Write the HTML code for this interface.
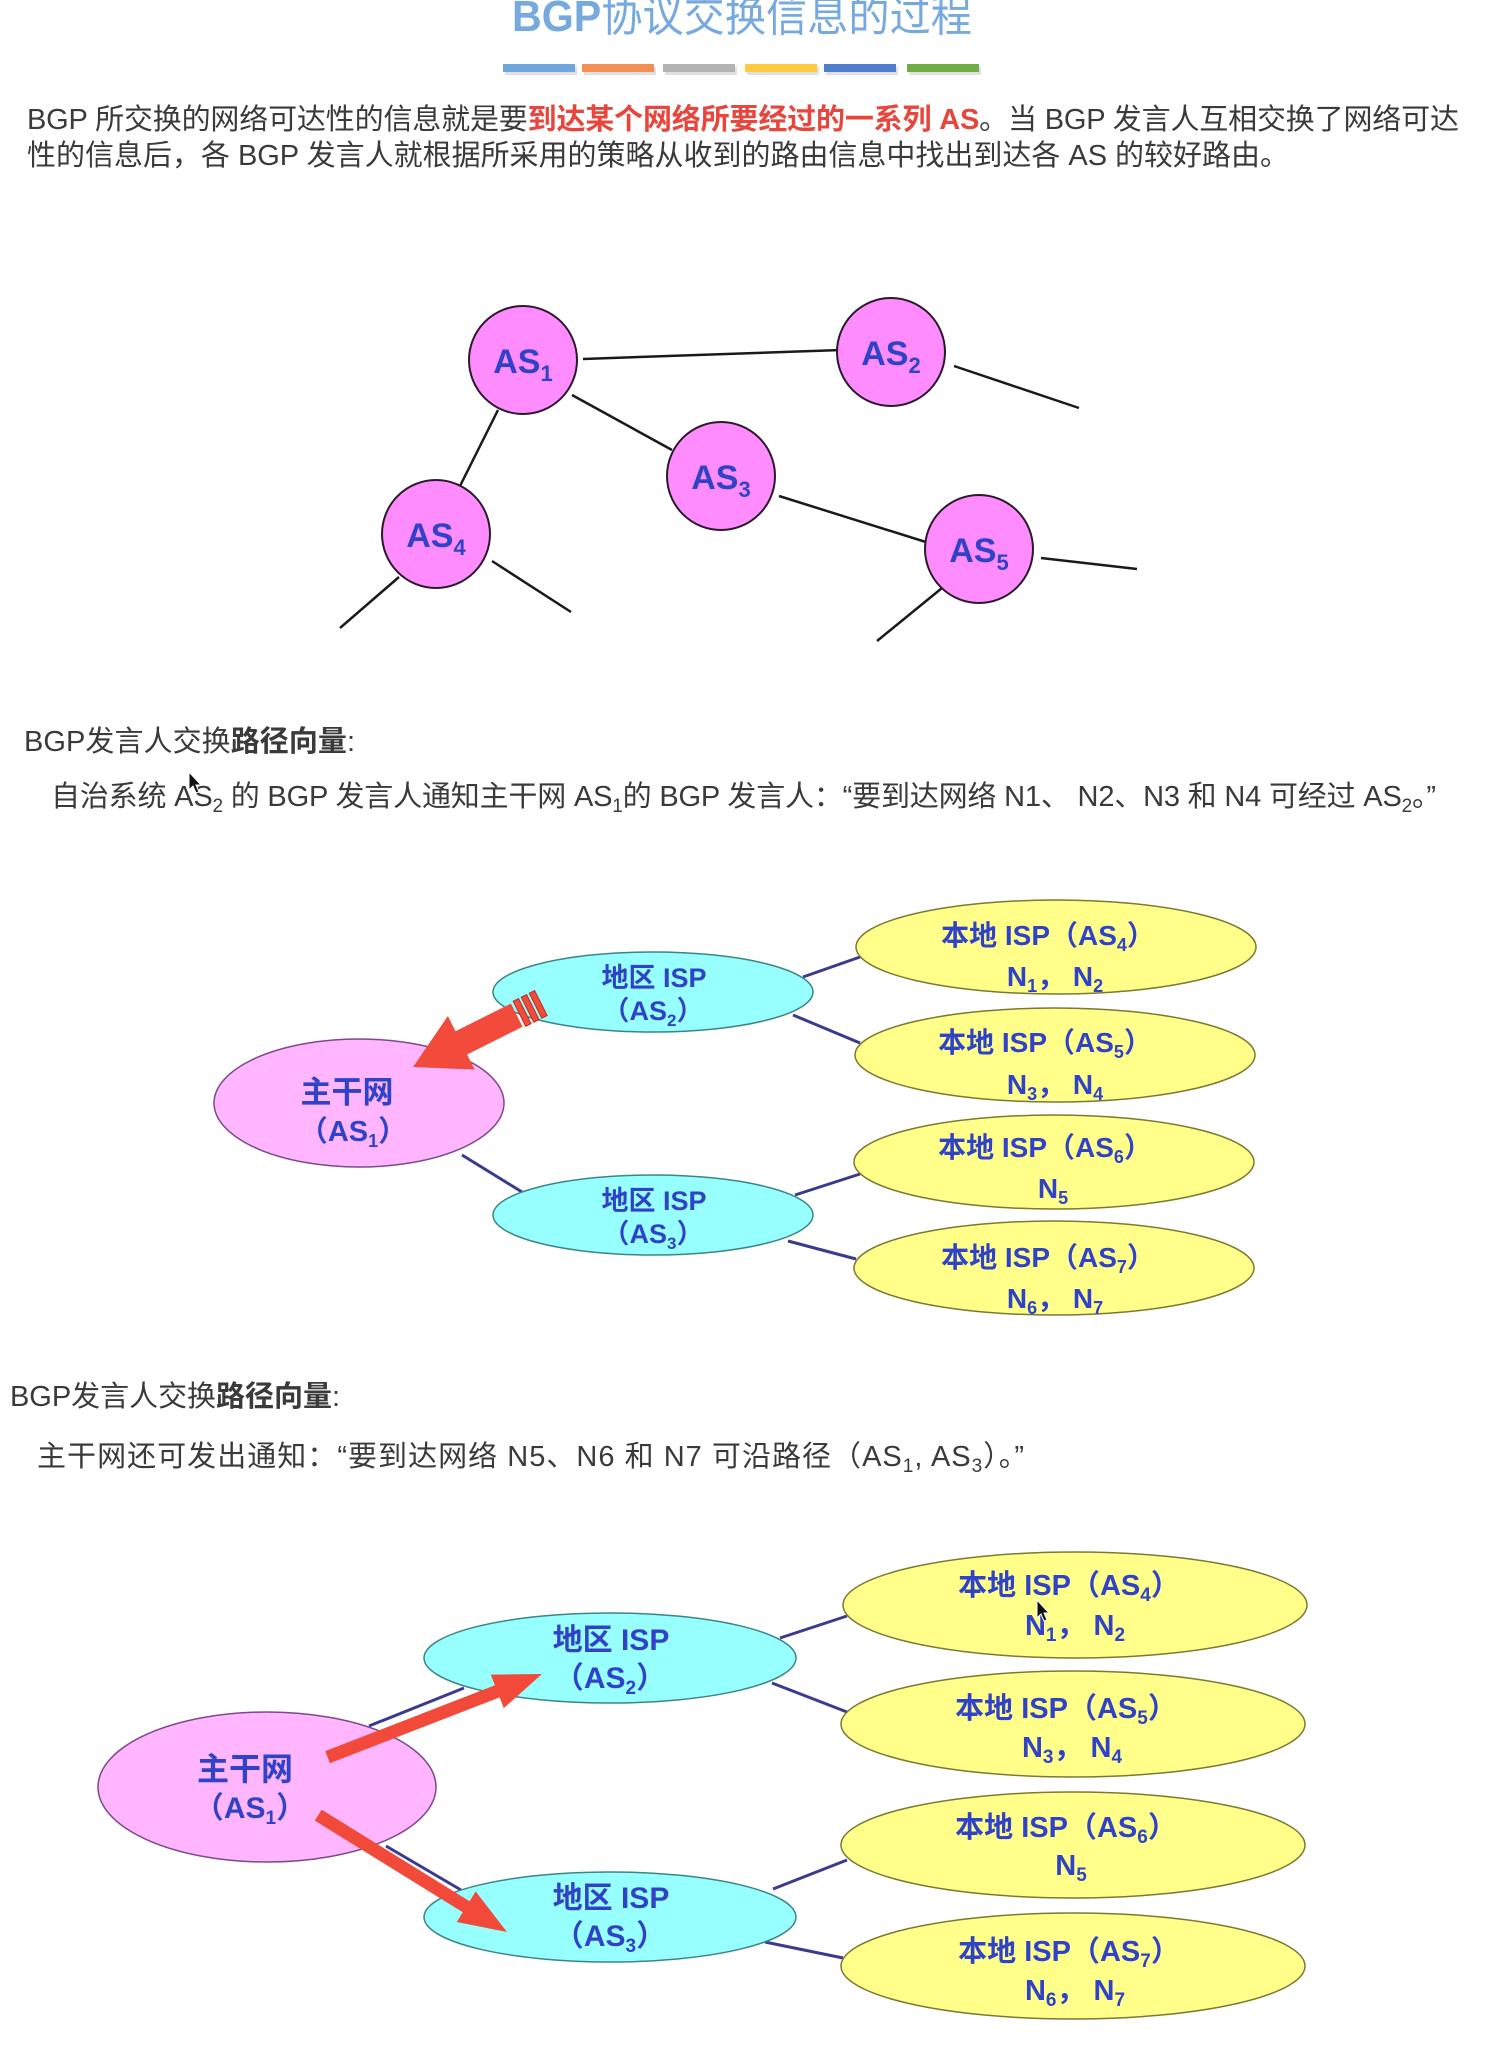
<!DOCTYPE html>
<html>
<head>
<meta charset="utf-8">
<style>
  html, body { margin:0; padding:0; background:#ffffff; }
  body { width:1510px; height:2056px; overflow:hidden; position:relative; }
  svg { position:absolute; left:0; top:0; }
  .t { font-family: "Liberation Sans", "Noto Sans CJK SC", sans-serif; }
  .body { font-size:29px; fill:#3a3a3a; }
  .lab { font-weight:bold; fill:#2f42c8; }
</style>
</head>
<body>
<svg width="1510" height="2056" viewBox="0 0 1510 2056" xmlns="http://www.w3.org/2000/svg">
  <!-- Title -->
  <text class="t" x="512" y="31" font-size="44" fill="#76aadf" textLength="460" lengthAdjust="spacingAndGlyphs"><tspan font-weight="bold">BGP</tspan>协议交换信息的过程</text>

  <!-- colour bars -->
  <g>
    <rect x="505" y="67" width="72" height="8" fill="#000" opacity="0.12"/>
    <rect x="584" y="67" width="72" height="8" fill="#000" opacity="0.12"/>
    <rect x="665" y="67" width="72" height="8" fill="#000" opacity="0.12"/>
    <rect x="747" y="67" width="72" height="8" fill="#000" opacity="0.12"/>
    <rect x="826" y="67" width="72" height="8" fill="#000" opacity="0.12"/>
    <rect x="909" y="67" width="72" height="8" fill="#000" opacity="0.12"/>
    <rect x="503" y="64" width="72" height="8" fill="#6ea6dd"/>
    <rect x="582" y="64" width="72" height="8" fill="#f28f55"/>
    <rect x="663" y="64" width="72" height="8" fill="#b3b3b3"/>
    <rect x="745" y="64" width="72" height="8" fill="#fecb3e"/>
    <rect x="824" y="64" width="72" height="8" fill="#4f7fcc"/>
    <rect x="907" y="64" width="72" height="8" fill="#70ad47"/>
  </g>

  <!-- Paragraph -->
  <text class="t body" x="27" y="129" textLength="1432" lengthAdjust="spacing">BGP 所交换的网络可达性的信息就是要<tspan fill="#e8453c" font-weight="bold">到达某个网络所要经过的一系列 AS</tspan>。当 BGP 发言人互相交换了网络可达</text>
  <text class="t body" x="27" y="165" textLength="1262" lengthAdjust="spacing">性的信息后，各 BGP 发言人就根据所采用的策略从收到的路由信息中找出到达各 AS 的较好路由。</text>

  <!-- Diagram 1 -->
  <g stroke="#1a1a1a" stroke-width="2.5" fill="none">
    <line x1="583" y1="359" x2="841" y2="350"/>
    <line x1="954" y1="366" x2="1079" y2="408"/>
    <line x1="572" y1="395" x2="672" y2="450"/>
    <line x1="498" y1="410" x2="460" y2="486"/>
    <line x1="399" y1="577" x2="340" y2="628"/>
    <line x1="492" y1="561" x2="571" y2="612"/>
    <line x1="779" y1="496" x2="929" y2="543"/>
    <line x1="1041" y1="558" x2="1137" y2="569"/>
    <line x1="942" y1="588" x2="877" y2="641"/>
  </g>
  <g fill="#ff8cff" stroke="#2a1a2a" stroke-width="2">
    <circle cx="523" cy="360" r="54"/>
    <circle cx="891" cy="352" r="54"/>
    <circle cx="721" cy="476" r="54"/>
    <circle cx="436" cy="534" r="54"/>
    <circle cx="979" cy="549" r="54"/>
  </g>
  <g class="t lab" font-size="34" fill="#3444d4" text-anchor="middle">
    <text x="523" y="373">AS<tspan font-size="22" dy="8">1</tspan></text>
    <text x="891" y="365">AS<tspan font-size="22" dy="8">2</tspan></text>
    <text x="721" y="489">AS<tspan font-size="22" dy="8">3</tspan></text>
    <text x="436" y="547">AS<tspan font-size="22" dy="8">4</tspan></text>
    <text x="979" y="562">AS<tspan font-size="22" dy="8">5</tspan></text>
  </g>

  <!-- Text block 2 -->
  <text class="t body" x="24" y="751" textLength="331" lengthAdjust="spacing">BGP发言人交换<tspan font-weight="bold">路径向量</tspan>:</text>
  <text class="t body" x="51" y="806" textLength="1385" lengthAdjust="spacing">自治系统 AS<tspan font-size="19" dy="6">2</tspan><tspan dy="-6"> 的 BGP 发言人通知主干网 AS</tspan><tspan font-size="19" dy="6">1</tspan><tspan dy="-6">的 BGP 发言人：“要到达网络 N1、 N2、N3 和 N4 可经过 AS</tspan><tspan font-size="19" dy="6">2</tspan><tspan dy="-6">。”</tspan></text>
  <!-- cursor -->
  <polygon points="189,772 189,790 193,786 196,793 199,792 196,785 201,785" fill="#111" stroke="#fff" stroke-width="1"/>

  <!-- Diagram 2 -->
  <g stroke="#3b3b8e" stroke-width="3">
    <line x1="462" y1="1155" x2="522" y2="1192"/>
    <line x1="803" y1="977" x2="860" y2="957"/>
    <line x1="793" y1="1015" x2="860" y2="1043"/>
    <line x1="795" y1="1195" x2="860" y2="1174"/>
    <line x1="788" y1="1241" x2="856" y2="1259"/>
  </g>
  <ellipse cx="359" cy="1103" rx="145" ry="64" fill="#ffb6ff" stroke="#7a4a8a" stroke-width="1.5"/>
  <ellipse cx="653" cy="992" rx="160" ry="40" fill="#98ffff" stroke="#3d8585" stroke-width="1.5"/>
  <ellipse cx="653" cy="1215" rx="160" ry="40" fill="#98ffff" stroke="#3d8585" stroke-width="1.5"/>
  <g fill="#ffff8a" stroke="#7a7a30" stroke-width="1.5">
    <ellipse cx="1056" cy="947" rx="200" ry="47"/>
    <ellipse cx="1055" cy="1055" rx="200" ry="47"/>
    <ellipse cx="1054" cy="1162" rx="200" ry="47"/>
    <ellipse cx="1054" cy="1268" rx="200" ry="47"/>
  </g>
  <!-- striped arrow AS2 -> AS1 -->
  <g transform="translate(413,1067) rotate(-26.57)" fill="#f24b3b">
    <polygon points="0,0 54,-30 54,-13 116,-13 116,13 54,13 54,30"/>
    <rect x="119" y="-14" width="6" height="28" stroke="#b83020" stroke-width="1"/>
    <rect x="128" y="-14" width="6" height="28" stroke="#b83020" stroke-width="1"/>
    <rect x="137" y="-14" width="6" height="28" stroke="#b83020" stroke-width="1"/>
  </g>
  <g class="t lab" text-anchor="middle">
    <text x="347" y="1103" font-size="31">主干网</text>
    <text x="353" y="1141" font-size="29">（AS<tspan font-size="18" dy="6">1</tspan><tspan dy="-6">）</tspan></text>
    <text x="654" y="987" font-size="27">地区 ISP</text>
    <text x="653" y="1020" font-size="27">（AS<tspan font-size="17" dy="6">2</tspan><tspan dy="-6">）</tspan></text>
    <text x="654" y="1210" font-size="27">地区 ISP</text>
    <text x="653" y="1243" font-size="27">（AS<tspan font-size="17" dy="6">3</tspan><tspan dy="-6">）</tspan></text>

    <text x="1048" y="945" font-size="28">本地 ISP（AS<tspan font-size="18" dy="6">4</tspan><tspan dy="-6">）</tspan></text>
    <text x="1055" y="986" font-size="28">N<tspan font-size="18" dy="6">1</tspan><tspan dy="-6">，  N</tspan><tspan font-size="18" dy="6">2</tspan></text>
    <text x="1045" y="1052" font-size="28">本地 ISP（AS<tspan font-size="18" dy="6">5</tspan><tspan dy="-6">）</tspan></text>
    <text x="1055" y="1094" font-size="28">N<tspan font-size="18" dy="6">3</tspan><tspan dy="-6">，  N</tspan><tspan font-size="18" dy="6">4</tspan></text>
    <text x="1045" y="1157" font-size="28">本地 ISP（AS<tspan font-size="18" dy="6">6</tspan><tspan dy="-6">）</tspan></text>
    <text x="1053" y="1198" font-size="28">N<tspan font-size="18" dy="6">5</tspan></text>
    <text x="1048" y="1267" font-size="28">本地 ISP（AS<tspan font-size="18" dy="6">7</tspan><tspan dy="-6">）</tspan></text>
    <text x="1055" y="1308" font-size="28">N<tspan font-size="18" dy="6">6</tspan><tspan dy="-6">，  N</tspan><tspan font-size="18" dy="6">7</tspan></text>
  </g>

  <!-- Text block 3 -->
  <text class="t body" x="10" y="1406" textLength="330" lengthAdjust="spacing">BGP发言人交换<tspan font-weight="bold">路径向量</tspan>:</text>
  <text class="t body" x="37" y="1466" textLength="987" lengthAdjust="spacing">主干网还可发出通知：“要到达网络 N5、N6 和 N7 可沿路径（AS<tspan font-size="19" dy="6">1</tspan><tspan dy="-6">, AS</tspan><tspan font-size="19" dy="6">3</tspan><tspan dy="-6">）。”</tspan></text>

  <!-- Diagram 3 -->
  <g stroke="#3b3b8e" stroke-width="3">
    <line x1="369" y1="1726" x2="464" y2="1688"/>
    <line x1="386" y1="1846" x2="461" y2="1890"/>
    <line x1="780" y1="1638" x2="847" y2="1616"/>
    <line x1="772" y1="1683" x2="847" y2="1712"/>
    <line x1="773" y1="1889" x2="847" y2="1860"/>
    <line x1="765" y1="1942" x2="843" y2="1958"/>
  </g>
  <ellipse cx="267" cy="1787" rx="169" ry="75" fill="#ffb6ff" stroke="#7a4a8a" stroke-width="1.5"/>
  <ellipse cx="610" cy="1658" rx="186" ry="45" fill="#98ffff" stroke="#3d8585" stroke-width="1.5"/>
  <ellipse cx="610" cy="1917" rx="186" ry="45" fill="#98ffff" stroke="#3d8585" stroke-width="1.5"/>
  <g fill="#ffff8a" stroke="#7a7a30" stroke-width="1.5">
    <ellipse cx="1075" cy="1605" rx="232" ry="53"/>
    <ellipse cx="1073" cy="1724" rx="232" ry="53"/>
    <ellipse cx="1073" cy="1845" rx="232" ry="53"/>
    <ellipse cx="1073" cy="1966" rx="232" ry="53"/>
  </g>
  <g class="t lab" text-anchor="middle">
    <text x="245" y="1780" font-size="32">主干网</text>
    <text x="250" y="1818" font-size="30">（AS<tspan font-size="19" dy="6">1</tspan><tspan dy="-6">）</tspan></text>
    <text x="611" y="1650" font-size="30">地区 ISP</text>
    <text x="610" y="1688" font-size="30">（AS<tspan font-size="19" dy="6">2</tspan><tspan dy="-6">）</tspan></text>
    <text x="611" y="1908" font-size="30">地区 ISP</text>
    <text x="610" y="1946" font-size="30">（AS<tspan font-size="19" dy="6">3</tspan><tspan dy="-6">）</tspan></text>

    <text x="1069" y="1595" font-size="29">本地 ISP（AS<tspan font-size="19" dy="6">4</tspan><tspan dy="-6">）</tspan></text>
    <text x="1075" y="1635" font-size="29">N<tspan font-size="19" dy="6">1</tspan><tspan dy="-6">，  N</tspan><tspan font-size="19" dy="6">2</tspan></text>
    <text x="1066" y="1718" font-size="29">本地 ISP（AS<tspan font-size="19" dy="6">5</tspan><tspan dy="-6">）</tspan></text>
    <text x="1072" y="1757" font-size="29">N<tspan font-size="19" dy="6">3</tspan><tspan dy="-6">，  N</tspan><tspan font-size="19" dy="6">4</tspan></text>
    <text x="1066" y="1837" font-size="29">本地 ISP（AS<tspan font-size="19" dy="6">6</tspan><tspan dy="-6">）</tspan></text>
    <text x="1071" y="1875" font-size="29">N<tspan font-size="19" dy="6">5</tspan></text>
    <text x="1069" y="1961" font-size="29">本地 ISP（AS<tspan font-size="19" dy="6">7</tspan><tspan dy="-6">）</tspan></text>
    <text x="1075" y="2000" font-size="29">N<tspan font-size="19" dy="6">6</tspan><tspan dy="-6">，  N</tspan><tspan font-size="19" dy="6">7</tspan></text>
  </g>
  <!-- red arrows diagram 3 -->
  <g transform="translate(542,1674) rotate(158.8)" fill="#f24a3a">
    <polygon points="0,0 48,-18 48,-6.5 230,-6.5 230,6.5 48,6.5 48,18"/>
  </g>
  <g transform="translate(507,1932) rotate(-148.24)" fill="#f24a3a">
    <polygon points="0,0 48,-18 48,-6.5 222,-6.5 222,6.5 48,6.5 48,18"/>
  </g>
  <!-- cursor -->
  <polygon points="1037,1600 1037,1618 1041,1614 1044,1621 1047,1620 1044,1613 1049,1613" fill="#111" stroke="#fff" stroke-width="1"/>
</svg>
</body>
</html>
